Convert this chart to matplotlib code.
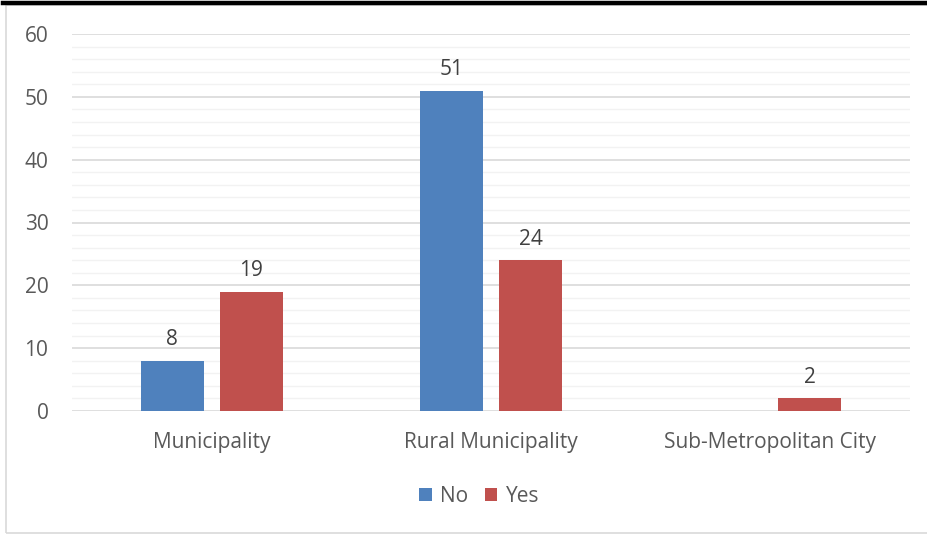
import numpy as np
import matplotlib.pyplot as plt
from matplotlib.patches import Rectangle
from matplotlib.lines import Line2D

# data
categories = ['Municipality', 'Rural Municipality', 'Sub-Metropolitan City']
no_vals = [8, 51, 0]
yes_vals = [19, 24, 2]
yticks = [0, 10, 20, 30, 40, 50, 60]

blue = '#4F81BD'
red = '#C0504D'
text_col = '#595959'

plt.rcParams['font.family'] = ['Open Sans', 'DejaVu Sans']

fig = plt.figure(figsize=(9.28, 5.35), dpi=100)
W, H = 928, 535

# chart frame (gray) and black top rule
fig.add_artist(Rectangle((6 / W, 2 / H), 1.2, 528 / H, transform=fig.transFigure,
                         fill=False, edgecolor='#D9D9D9', linewidth=1.2))
fig.add_artist(Line2D([3 / W, 1], [1 - 2.5 / H, 1 - 2.5 / H], transform=fig.transFigure,
                      color='black', linewidth=3.2))

ax = fig.add_axes([72 / W, (H - 411) / H, (910 - 72) / W, (411 - 34) / H])

x = np.arange(len(categories))
bw = 0.2256
off = 0.1415
b1 = ax.bar(x - off, no_vals, bw, color=blue, label='No', zorder=3)
b2 = ax.bar(x + off, yes_vals, bw, color=red, label='Yes', zorder=3)

fs = 15
for bars, vals in ((b1, no_vals), (b2, yes_vals)):
    for rect, v in zip(bars, vals):
        if v == 0:
            continue
        ax.annotate(str(v), (rect.get_x() + rect.get_width() / 2, v),
                    xytext=(0, 7.5), textcoords='offset points',
                    ha='center', va='bottom', fontsize=fs, color='#404040')

ax.set_xlim(-0.5, len(categories) - 0.5)
ax.set_ylim(0, 60)
ax.set_yticks(yticks)
ax.set_yticks(np.arange(0, 61, 2), minor=True)
ax.set_xticks(x)
ax.set_xticklabels(categories)
ax.grid(axis='y', which='minor', color='#F2F2F2', linewidth=1.0, zorder=0)
ax.grid(axis='y', which='major', color='#D9D9D9', linewidth=1.2, zorder=1)
ax.tick_params(axis='both', which='both', length=0, labelsize=fs, colors=text_col)
ax.tick_params(axis='y', pad=17)
ax.tick_params(axis='x', pad=15)
for s in ax.spines.values():
    s.set_visible(False)
ax.set_facecolor('none')

ax.legend(loc='center', bbox_to_anchor=(479 / W, 1 - 496 / H), bbox_transform=fig.transFigure,
          ncol=2, frameon=False, fontsize=fs, handlelength=0.6, handleheight=0.6,
          handletextpad=0.4, columnspacing=0.8, labelcolor=text_col)

fig.savefig('out.png', dpi=100)
